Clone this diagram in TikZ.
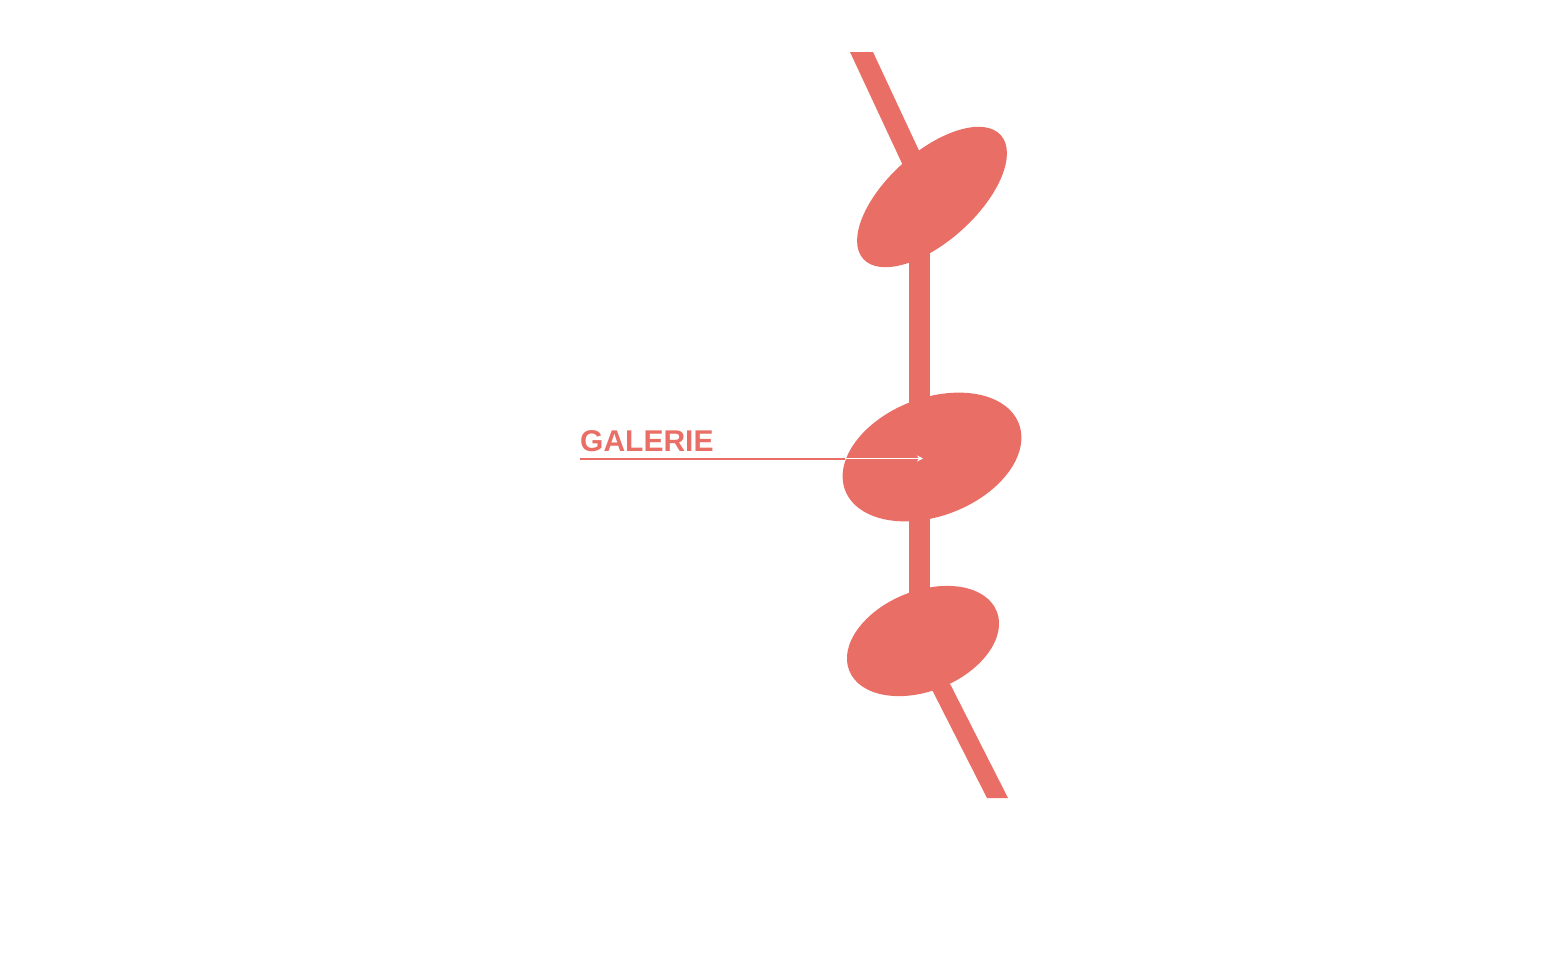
\documentclass[tikz,border=0pt]{standalone}
\usepackage{fontspec}
\setmainfont{Liberation Sans}
\usetikzlibrary{shapes.geometric,arrows.meta}
\definecolor{coral}{RGB}{232,110,102}
\tikzset{
  blob/.style={ellipse, fill=coral, draw=none, inner sep=0pt},
  bar/.style={fill=coral, draw=none},
  lbl/.style={text=coral, font=\bfseries\fontsize{30}{30}\selectfont, inner sep=0pt, anchor=base west}
}
\begin{document}
\begin{tikzpicture}[x=1pt,y=-1pt]
\useasboundingbox (0,0) rectangle (1551,967);
% bars
\coordinate (t1) at (850,52); \coordinate (t2) at (873,52);
\coordinate (t3) at (929,172); \coordinate (t4) at (906,172);
\fill[bar] (t1) -- (t2) -- (t3) -- (t4) -- cycle;
\coordinate (v1) at (909,240); \coordinate (v2) at (930,610);
\fill[bar] (v1) rectangle (v2);
\coordinate (b1) at (922,670); \coordinate (b2) at (943,670);
\coordinate (b3) at (1008,798); \coordinate (b4) at (987,798);
\fill[bar] (b1) -- (b2) -- (b3) -- (b4) -- cycle;
% ellipses
\node[blob, minimum width=185pt, minimum height=89pt, rotate=42] (top) at (932,197) {};
\node[blob, minimum width=186pt, minimum height=118pt, rotate=21] (mid) at (932,457) {};
\node[blob, minimum width=159pt, minimum height=100pt, rotate=22] (bot) at (923,641) {};
% label and arrow
\node[lbl] (galerie) at (580,451) {GALERIE};
\coordinate (astart) at (580,458.5);
\coordinate (aentry) at (845,458.5);
\coordinate (atip) at (923,458.5);
\draw[coral, line width=2pt] (astart) -- (aentry);
\draw[white, line width=1.6pt, -{Stealth[length=6pt,width=6pt]}] (aentry) -- (atip);
\end{tikzpicture}
\end{document}
